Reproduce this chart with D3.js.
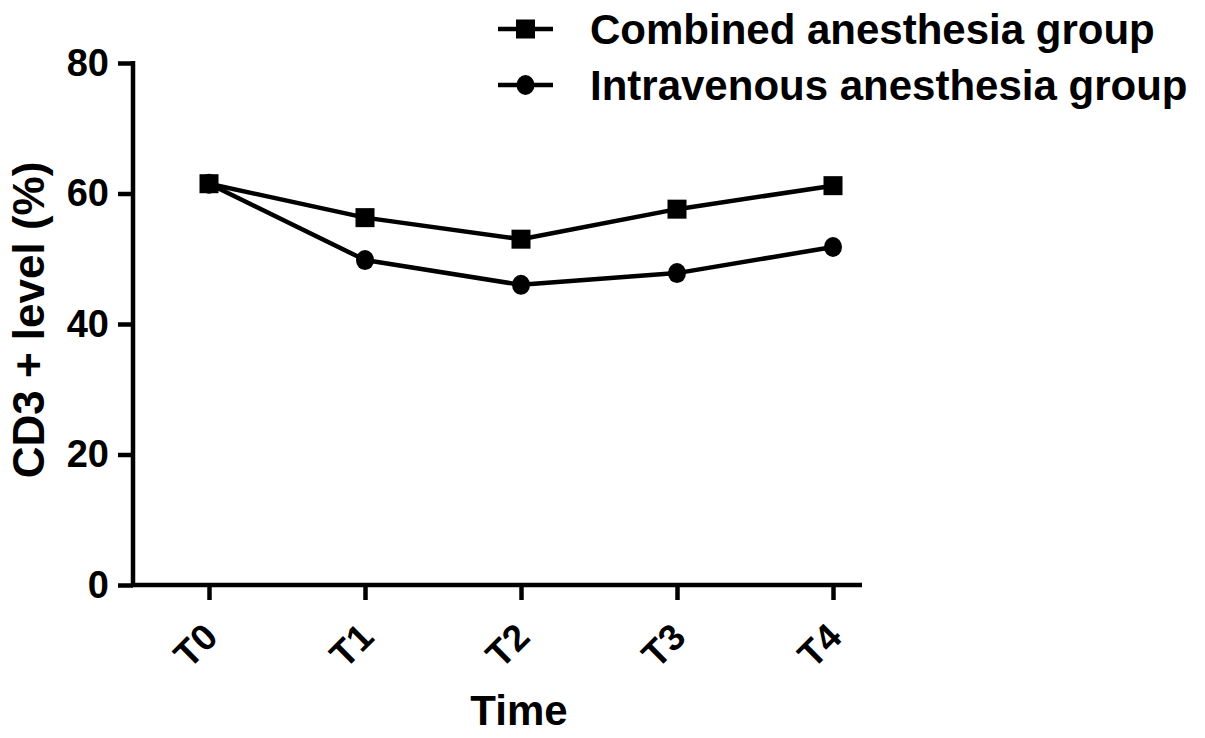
<!DOCTYPE html>
<html>
<head>
<meta charset="utf-8">
<script src="https://cdn.jsdelivr.net/npm/d3@7"></script>
<style>
  body { margin: 0; background: #fff; }
  svg { display: block; font-family: "Liberation Sans", Arial, sans-serif; }
</style>
</head>
<body>
<div id="chart"></div>
<script>
// Data
const timePoints = ['T0', 'T1', 'T2', 'T3', 'T4'];
const combined = [61.5, 56.3, 53.0, 57.6, 61.2];
const intravenous = [61.5, 49.8, 46.0, 47.8, 51.8];
const yTicks = [0, 20, 40, 60, 80];
const seriesNames = ['Combined anesthesia group', 'Intravenous anesthesia group'];

const width = 1205;
const height = 738;

const svg = d3.select('#chart')
    .append('svg')
    .attr('width', width)
    .attr('height', height)
    .attr('viewBox', [0, 0, width, height]);

// Plot area
const axisLeftX = 133;
const axisRightX = 862;
const axisBottomY = 585;
const axisTopY = 63;
const stroke = 4.5;

const x = d3.scalePoint()
    .domain(timePoints)
    .range([209, 833]);

const y = d3.scaleLinear()
    .domain([0, 80])
    .range([axisBottomY, axisTopY]);

// Y axis
const yAxis = svg.append('g')
    .attr('transform', `translate(${axisLeftX},0)`)
    .call(d3.axisLeft(y).tickValues(yTicks).tickSize(15).tickSizeOuter(0).tickPadding(9));
yAxis.select('.domain')
    .attr('d', `M0,${axisTopY - 2}V${axisBottomY}`)
    .attr('stroke-width', stroke);
yAxis.selectAll('.tick line').attr('stroke-width', stroke);
yAxis.selectAll('.tick text')
    .attr('font-size', 38)
    .attr('font-weight', 'bold')
    .attr('fill', '#000');

// X axis
const xAxis = svg.append('g')
    .attr('transform', `translate(0,${axisBottomY})`)
    .call(d3.axisBottom(x).tickSize(15).tickSizeOuter(0).tickPadding(12));
xAxis.select('.domain')
    .attr('d', `M${axisLeftX - 2},0H${axisRightX}`)
    .attr('stroke-width', stroke);
xAxis.selectAll('.tick line').attr('stroke-width', stroke);
xAxis.selectAll('.tick text')
    .attr('font-size', 37)
    .attr('font-weight', 'bold')
    .attr('fill', '#000')
    .attr('text-anchor', 'end')
    .attr('dy', '0.35em')
    .attr('transform', 'translate(-18,26) rotate(-45)');

// Axis titles
svg.append('text')
    .attr('x', (x('T0') + x('T4')) / 2 - 2)
    .attr('y', 725)
    .attr('text-anchor', 'middle')
    .attr('font-size', 42)
    .attr('font-weight', 'bold')
    .text('Time');

svg.append('text')
    .attr('transform', `translate(44,${(axisTopY + axisBottomY) / 2 - 4}) rotate(-90)`)
    .attr('text-anchor', 'middle')
    .attr('font-size', 44)
    .attr('font-weight', 'bold')
    .text('CD3 + level (%)');

// Lines
const line = d3.line()
    .x((d, i) => x(timePoints[i]))
    .y(d => y(d));

const series = [
    { name: seriesNames[0], values: combined, shape: 'square' },
    { name: seriesNames[1], values: intravenous, shape: 'circle' }
];

function drawMarker(sel, shape, cx, cy) {
    if (shape === 'square') {
        sel.append('rect')
            .attr('x', cx - 9.5)
            .attr('y', cy - 9.5)
            .attr('width', 19)
            .attr('height', 19)
            .attr('fill', '#000');
    } else {
        sel.append('ellipse')
            .attr('cx', cx)
            .attr('cy', cy)
            .attr('rx', 9)
            .attr('ry', 10)
            .attr('fill', '#000');
    }
}

// Draw circles first, squares on top (as in the figure at T0)
[series[1], series[0]].forEach(s => {
    const g = svg.append('g');
    g.append('path')
        .datum(s.values)
        .attr('fill', 'none')
        .attr('stroke', '#000')
        .attr('stroke-width', stroke)
        .attr('stroke-linejoin', 'round')
        .attr('d', line);
    s.values.forEach((v, i) => drawMarker(g, s.shape, x(timePoints[i]), y(v)));
});

// Legend
const legend = svg.append('g');
series.forEach((s, i) => {
    const cy = 29 + i * 56;
    const g = legend.append('g');
    g.append('line')
        .attr('x1', 498).attr('x2', 553)
        .attr('y1', cy).attr('y2', cy)
        .attr('stroke', '#000')
        .attr('stroke-width', stroke);
    drawMarker(g, s.shape, 525.5, cy);
    g.append('text')
        .attr('x', 590)
        .attr('y', cy + 15)
        .attr('font-size', 42)
        .attr('font-weight', 'bold')
        .text(s.name);
});
</script>
</body>
</html>
